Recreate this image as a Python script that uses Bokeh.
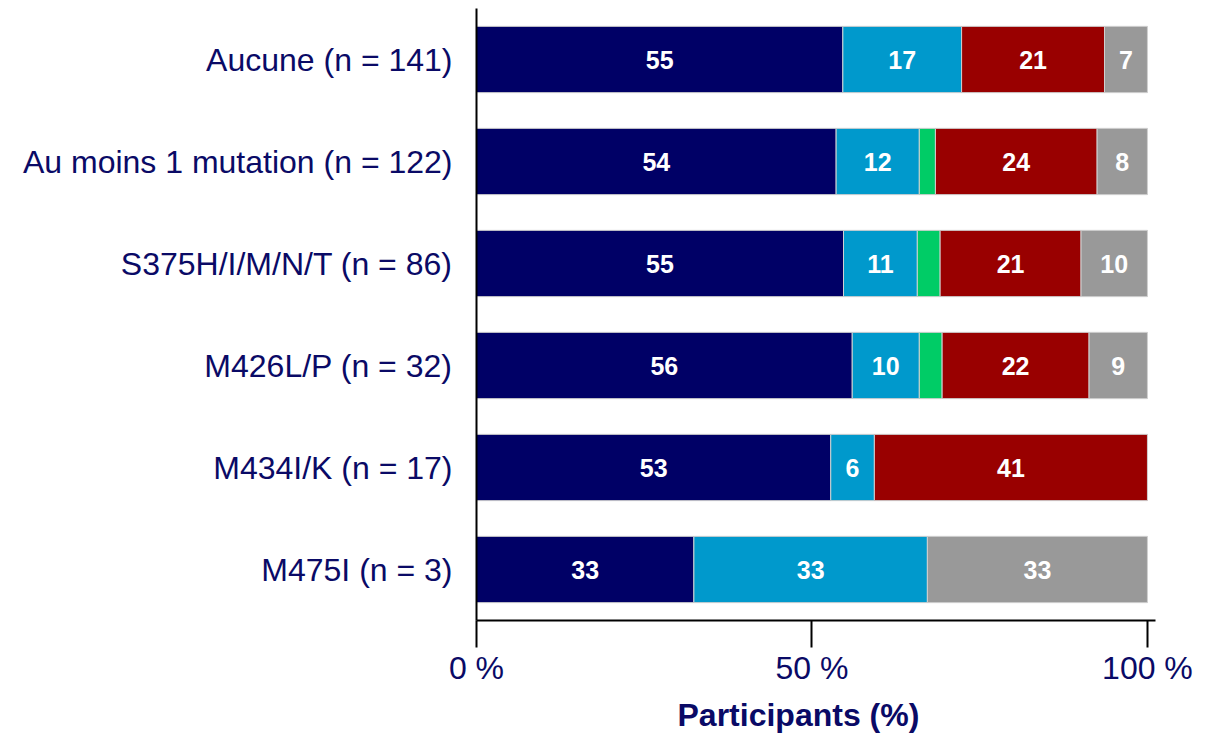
from bokeh.plotting import figure
from bokeh.models import ColumnDataSource, Range1d, FactorRange, FixedTicker, Title
from bokeh.core.properties import value
from bokeh.embed import file_html
from bokeh.resources import INLINE

categories = ["Aucune (n = 141)", "Au moins 1 mutation (n = 122)", "S375H/I/M/N/T (n = 86)",
              "M426L/P (n = 32)", "M434I/K (n = 17)", "M475I (n = 3)"]
navy_vals = [54.6, 53.6, 54.7, 56.0, 52.8, 32.4]
blue_vals = [17.7, 12.4, 11.0, 10.0, 6.5, 34.8]
green_vals = [0.0, 2.4, 3.4, 3.4, 0.0, 0.0]
red_vals = [21.3, 24.1, 21.0, 21.9, 40.7, 0.0]
gray_vals = [6.4, 7.5, 9.9, 8.7, 0.0, 32.8]
navy_labels = ["55", "54", "55", "56", "53", "33"]
blue_labels = ["17", "12", "11", "10", "6", "33"]
green_labels = ["", "", "", "", "", ""]
red_labels = ["21", "24", "21", "22", "41", ""]
gray_labels = ["7", "8", "10", "9", "", "33"]
x_ticks = [0, 50, 100]
x_tick_labels = {0: "0 %", 50: "50 %", 100: "100 %"}
x_title = "Participants (%)"

colors = ["#000066", "#0099CC", "#00CC66", "#990000", "#999999"]
text_color = "#0A0A66"
FONT = "Liberation Sans"

p = figure(width=1215, height=739, output_backend="svg", toolbar_location=None,
           y_range=FactorRange(*reversed(categories), range_padding=0),
           x_range=Range1d(0, 101.2),
           min_border_left=476, min_border_right=60, min_border_top=8, min_border_bottom=119)
p.outline_line_color = None
p.xgrid.visible = False
p.ygrid.visible = False
p.background_fill_color = "white"
p.border_fill_color = "white"

all_vals = [navy_vals, blue_vals, green_vals, red_vals, gray_vals]
all_labels = [navy_labels, blue_labels, green_labels, red_labels, gray_labels]
left = [0.0] * len(categories)
for vals, labels, col in zip(all_vals, all_labels, colors):
    right = [l + v for l, v in zip(left, vals)]
    ys, ls, rs = [], [], []
    for c, l, r, v in zip(categories, left, right, vals):
        if v > 0:
            ys.append(c); ls.append(l); rs.append(r)
    src = ColumnDataSource(dict(y=ys, left=ls, right=rs))
    p.hbar(y="y", left="left", right="right", height=0.65, source=src,
           fill_color=col, line_color="#D0D0D0", line_width=1)
    ty, tx, tt = [], [], []
    for c, l, r, lab in zip(categories, left, right, labels):
        if lab:
            ty.append(c); tx.append((l + r) / 2); tt.append(lab)
    if tt:
        tsrc = ColumnDataSource(dict(x=tx, y=ty, t=tt))
        p.text(x="x", y="y", text="t", source=tsrc, text_align="center",
               text_baseline="middle", text_color="white", text_font=value(FONT),
               text_font_size="25px", text_font_style="bold")
    left = right

# x axis
xa = p.xaxis[0]
xa.ticker = FixedTicker(ticks=x_ticks)
xa.major_label_overrides = x_tick_labels
xa.minor_tick_line_color = None
xa.major_tick_in = 0
xa.major_tick_out = 27
xa.major_tick_line_width = 2
xa.major_tick_line_color = "black"
xa.axis_line_width = 2
xa.axis_line_color = "black"
xa.major_label_text_font = FONT
xa.major_label_text_font_size = "32px"
xa.major_label_text_color = text_color
xa.major_label_standoff = 2

title = Title(text=x_title, align="left", offset=201, standoff=13, text_font=FONT,
              text_font_size="32px", text_font_style="bold", text_color=text_color)
p.add_layout(title, "below")

ya = p.yaxis[0]
ya.major_tick_line_color = None
ya.minor_tick_line_color = None
ya.major_tick_out = 0
ya.major_tick_in = 0
ya.axis_line_width = 2
ya.axis_line_color = "black"
ya.major_label_text_font = FONT
ya.major_label_text_font_size = "32px"
ya.major_label_text_color = text_color
ya.major_label_standoff = 24

open("out.html", "w").write(file_html(p, INLINE))
